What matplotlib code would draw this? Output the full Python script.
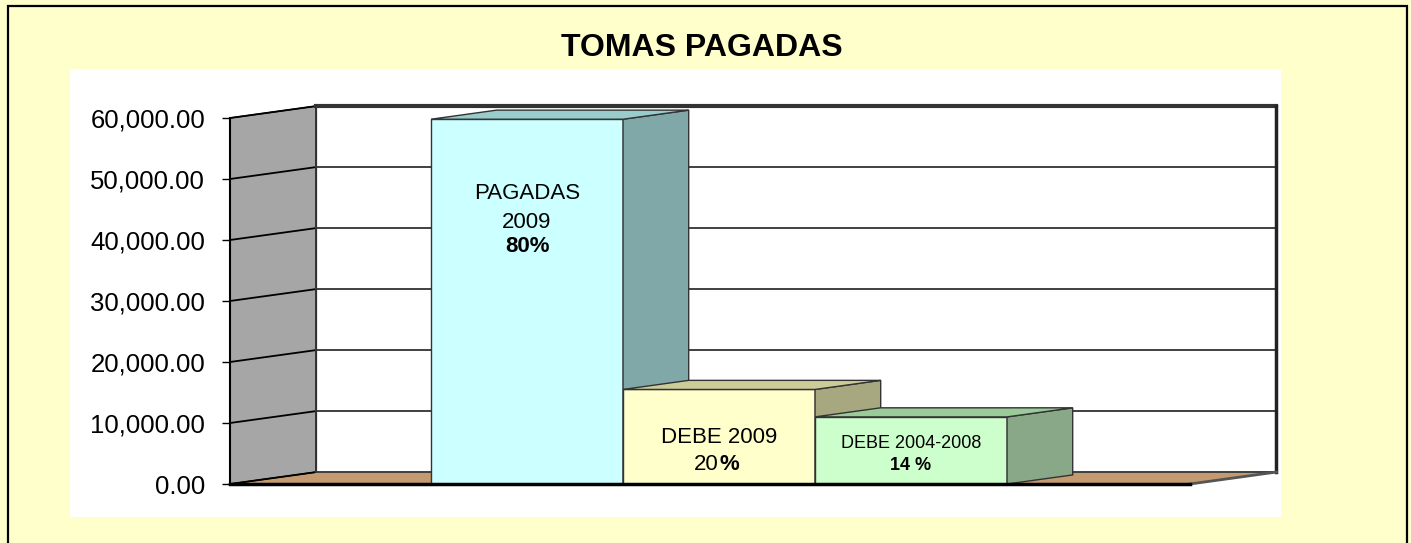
import numpy as np
import matplotlib.pyplot as plt
from matplotlib.patches import Polygon, Rectangle
from matplotlib.ticker import FuncFormatter

plt.rcParams['font.family'] = ['Liberation Sans', 'DejaVu Sans']

# datos
categorias = ['PAGADAS 2009', 'DEBE 2009', 'DEBE 2004-2008']
valores = [59800, 15500, 11000]
yticks = [0, 10000, 20000, 30000, 40000, 50000, 60000]

frente = ['#CCFFFF', '#FFFFCC', '#CCFFCC']
lado = ['#80A8A8', '#A8A880', '#88A888']
arriba = ['#99CCCC', '#CCCC99', '#99CC99']

W, H = 1411, 543
fig = plt.figure(figsize=(W / 100, H / 100), dpi=100, facecolor='#FFFFCC')

# area blanca del grafico y marco
fig.patches.append(Rectangle((70 / W, 1 - 517 / H), (1281 - 70) / W, (517 - 69) / H,
                             transform=fig.transFigure, facecolor='white',
                             edgecolor='none', zorder=-1))
fig.patches.append(Rectangle((7.5 / W, -0.1), (1406.5 - 7.5) / W, 1.1 - 6.5 / H,
                             transform=fig.transFigure, fill=False,
                             edgecolor='black', lw=1.6, zorder=-1))

fig.text(702 / W, 1 - 48 / H, 'TOMAS PAGADAS', ha='center', va='center',
         fontsize=23, fontweight='bold')

ax = fig.add_axes([230 / W, 1 - 484 / H, 960 / W, (484 - 118) / H])
ax.set_xlim(-1.047, 3.953)
ax.set_ylim(0, yticks[-1])
ax.set_facecolor('none')

xmin, xmax = ax.get_xlim()
ytop = yticks[-1]
DX, DY = 0.45, 1960   # profundidad de las paredes
k = 0.76              # profundidad de las barras

# piso
ax.add_patch(Polygon([(xmin, 0), (xmin + DX, DY), (xmax + DX, DY), (xmax, 0)],
                     closed=True, facecolor='#C49A70', edgecolor='none',
                     clip_on=False, zorder=0.3))
# pared de fondo
ax.add_patch(Polygon([(xmin + DX, DY), (xmax + DX, DY), (xmax + DX, ytop + DY),
                      (xmin + DX, ytop + DY)], closed=True, facecolor='white',
                     edgecolor='none', clip_on=False, zorder=0.3))
# pared lateral
ax.add_patch(Polygon([(xmin, 0), (xmin + DX, DY), (xmin + DX, ytop + DY), (xmin, ytop)],
                     closed=True, facecolor='#A6A6A6', edgecolor='black', lw=1,
                     clip_on=False, zorder=0.4))

for v in yticks:
    ax.plot([xmin, xmin + DX], [v, v + DY], color='black', lw=1.3,
            clip_on=False, zorder=0.6)
    ax.plot([xmin + DX, xmax + DX], [v + DY, v + DY],
            color='#404040' if v < ytop else '#333333',
            lw=1.4 if v < ytop else 3, clip_on=False, zorder=0.6)

ax.plot([xmin + DX, xmin + DX], [DY, ytop + DY], color='#333333', lw=1.4,
        clip_on=False, zorder=0.6)
ax.plot([xmax + DX, xmax + DX], [DY, ytop + DY], color='#222222', lw=2.5,
        clip_on=False, zorder=0.6)
ax.plot([xmax, xmax + DX], [0, DY], color='#555555', lw=2, clip_on=False, zorder=0.6)

# barras 3d
for i, v in enumerate(valores):
    z = 1 + i * 0.1
    ax.add_patch(Rectangle((i, 0), 1, v, facecolor=frente[i], edgecolor='#333333',
                           lw=1, clip_on=False, zorder=z))
    ax.add_patch(Polygon([(i + 1, 0), (i + 1 + k * DX, k * DY),
                          (i + 1 + k * DX, v + k * DY), (i + 1, v)], closed=True,
                         facecolor=lado[i], edgecolor='#333333', lw=1,
                         clip_on=False, zorder=z))
    ax.add_patch(Polygon([(i, v), (i + k * DX, v + k * DY),
                          (i + 1 + k * DX, v + k * DY), (i + 1, v)], closed=True,
                         facecolor=arriba[i], edgecolor='#333333', lw=1,
                         clip_on=False, zorder=z))

# etiquetas de las barras
ax.text(0.5, 46650, 'PAGADAS', ha='center', va='baseline', fontsize=16, zorder=3)
ax.text(0.5, 41900, '2009', ha='center', va='baseline', fontsize=16, zorder=3)
ax.text(0.5, 37970, '80%', ha='center', va='baseline', fontsize=16,
        fontweight='bold', zorder=3)
ax.text(1.5, 6710, 'DEBE 2009', ha='center', va='baseline', fontsize=16, zorder=3)
ax.text(1.5, 2290, '20', ha='right', va='baseline', fontsize=16, zorder=3)
ax.text(1.5, 2290, '%', ha='left', va='baseline', fontsize=16,
        fontweight='bold', zorder=3)
ax.text(2.5, 5890, 'DEBE 2004-2008', ha='center', va='baseline', fontsize=13, zorder=3)
ax.text(2.5, 2290, '14 %', ha='center', va='baseline', fontsize=13,
        fontweight='bold', zorder=3)

ax.set_yticks(yticks)
ax.yaxis.set_major_formatter(FuncFormatter(lambda v, p: '{:,.2f}'.format(v)))
ax.tick_params(axis='y', length=5.8, width=1, pad=12, labelsize=18.5, color='black')
ax.set_xticks([])
for s in ['top', 'right']:
    ax.spines[s].set_visible(False)
ax.spines['left'].set_linewidth(1.5)
ax.spines['bottom'].set_linewidth(2.5)

plt.savefig('out.png', dpi=100, facecolor=fig.get_facecolor())
